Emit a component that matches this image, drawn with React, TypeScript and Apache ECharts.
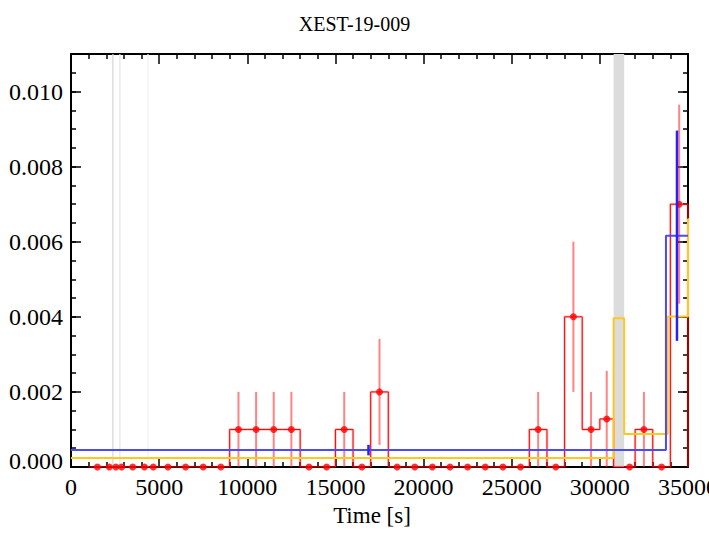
import React, { useEffect, useRef } from "react";
import * as echarts from "echarts";

const FONT = "'Liberation Serif', 'Times New Roman', serif";

// Red light curve: fixed bins (start, end), rate and 1-sigma error
const redBinStart = [1000, 2000, 2347, 2744, 3000, 4000, 4335, 5000, 6000, 7000, 8000, 9000, 10000, 11000, 12000, 13000, 14000, 15000, 16000, 17000, 18000, 19000, 20000, 21000, 22000, 23000, 24000, 25000, 26000, 27000, 28000, 29000, 30000, 31380, 32000, 33000, 34000];
const redBinEnd = [2000, 2347, 2744, 3000, 4000, 4335, 5000, 6000, 7000, 8000, 9000, 10000, 11000, 12000, 13000, 14000, 15000, 16000, 17000, 18000, 19000, 20000, 21000, 22000, 23000, 24000, 25000, 26000, 27000, 28000, 29000, 30000, 30780, 32000, 33000, 34000, 35000];
const redValues = [0, 0, 0, 0, 0, 0, 0, 0, 0, 0, 0, 0.001, 0.001, 0.001, 0.001, 0, 0, 0.001, 0, 0.002, 0, 0, 0, 0, 0, 0, 0, 0, 0.001, 0, 0.004, 0.001, 0.00128, 0, 0.001, 0, 0.007];
const redErrors = [0, 0, 0, 0, 0, 0, 0, 0, 0, 0, 0, 0.001, 0.001, 0.001, 0.001, 0, 0, 0.001, 0, 0.00141, 0, 0, 0, 0, 0, 0, 0, 0, 0.001, 0, 0.002, 0.001, 0.00128, 0, 0.001, 0, 0.00265];

// Blue blocks
const blueEdges = [0, 33750, 35000];
const blueValues = [0.00045, 0.00616];
const blueErrors = [0.00014, 0.0028];

// Yellow blocks
const yellowEdges = [0, 30780, 31380, 33850, 35000, 36000];
const yellowValues = [0.00024, 0.00396, 0.00088, 0.00401, 0.0066];

// Gaps in observation
const gapStart = [2340, 2738, 4330, 30780];
const gapEnd = [2355, 2750, 4340, 31380];
const gapColors = ["#d6d6d6", "#e4e4e4", "#f0f0f0", "#dcdcdc"];

const X_MIN = 0, X_MAX = 35000, X_INT = 5000;
const Y_MIN = 0, Y_MAX = 0.011, Y_INT = 0.002, Y_MINOR = 0.0005;

function redStep() {
  const pts: number[][] = [];
  pts.push([redBinStart[0], 0]);
  for (let i = 0; i < redValues.length; i++) {
    if (i > 0 && redBinStart[i] !== redBinEnd[i - 1]) {
      pts.push([redBinEnd[i - 1], 0]);
      pts.push([redBinStart[i], 0]);
    }
    pts.push([redBinStart[i], redValues[i]]);
    pts.push([redBinEnd[i], redValues[i]]);
  }
  pts.push([redBinEnd[redBinEnd.length - 1], 0]);
  return pts;
}

function blockStep(edges: number[], values: number[]) {
  const pts: number[][] = [];
  for (let i = 0; i < values.length; i++) {
    pts.push([edges[i], values[i]]);
    pts.push([edges[i + 1], values[i]]);
  }
  return pts;
}

export default function App() {
  const ref = useRef<HTMLDivElement>(null);
  useEffect(() => {
    if (!ref.current) return;
    const chart = echarts.init(ref.current, null, { renderer: "svg" });

    const redPts = redValues.map((v, i) => [(redBinStart[i] + redBinEnd[i]) / 2, v]);
    const redErr = redValues
      .map((v, i) => [(redBinStart[i] + redBinEnd[i]) / 2, v - redErrors[i], v + redErrors[i], redErrors[i]])
      .filter((d) => d[3] > 0);
    const blueErr = blueValues.map((v, i) => [(blueEdges[i] + blueEdges[i + 1]) / 2, v - blueErrors[i], v + blueErrors[i]]);
    const gaps = gapStart.map((s, i) => [s, gapEnd[i]]);

    const errRender = (color: string, width: number) => (params: any, api: any) => {
      const p1 = api.coord([api.value(0), api.value(1)]);
      const p2 = api.coord([api.value(0), api.value(2)]);
      return {
        type: "line",
        shape: { x1: p1[0], y1: p1[1], x2: p2[0], y2: p2[1] },
        style: { stroke: color, lineWidth: width },
      };
    };

    const tickStyle = { color: "#000", width: 1.5 };
    const lineStyle = { color: "#000", width: 2 };

    const xBase = {
      type: "value",
      min: X_MIN,
      max: X_MAX,
      interval: X_INT,
      splitLine: { show: false },
      minorSplitLine: { show: false },
      axisLine: { show: true, onZero: false, lineStyle },
      axisTick: { show: true, inside: true, length: 10, lineStyle: tickStyle },
      minorTick: { show: true, splitNumber: 5, length: 5, lineStyle: tickStyle },
    };
    const yMajor = {
      type: "value",
      min: Y_MIN,
      max: Y_MAX,
      interval: Y_INT,
      splitLine: { show: false },
      axisLine: { show: true, onZero: false, lineStyle },
      axisTick: { show: true, inside: true, length: 10, lineStyle: tickStyle },
    };
    const yMinor = {
      type: "value",
      min: Y_MIN,
      max: Y_MAX,
      interval: Y_MINOR,
      splitLine: { show: false },
      axisLine: { show: false, onZero: false },
      axisTick: { show: true, inside: true, length: 5, lineStyle: tickStyle },
      axisLabel: { show: false },
    };

    chart.setOption({
      animation: false,
      backgroundColor: "#fff",
      title: {
        text: "XEST-19-009",
        left: "center",
        top: 9,
        textStyle: { fontFamily: FONT, fontSize: 20, fontWeight: "normal", color: "#000" },
      },
      grid: { left: 71, right: 21, top: 54, bottom: 83, containLabel: false, outerBoundsMode: "none" },
      xAxis: [
        {
          ...xBase,
          position: "bottom",
          axisLabel: {
            color: "#000",
            fontSize: 24,
            fontFamily: FONT,
            margin: 8,
            formatter: (v: number) => String(Math.round(v)),
          },
          name: "Time [s]",
          nameLocation: "middle",
          nameGap: 37,
          nameTextStyle: { color: "#000", fontSize: 23, fontFamily: FONT, padding: [0, 15, 0, 0] },
        },
        { ...xBase, position: "top", axisLabel: { show: false } },
      ],
      yAxis: [
        {
          ...yMajor,
          position: "left",
          axisLabel: {
            color: "#000",
            fontSize: 24,
            fontFamily: FONT,
            margin: 8,
            formatter: (v: number) => (v > 0.0105 ? "" : v === 0 ? "{z|0.000}" : v.toFixed(3)),
            rich: { z: { fontSize: 24, fontFamily: FONT, color: "#000", padding: [0, 0, 12, 0] } },
          },
        },
        { ...yMajor, position: "right", axisLabel: { show: false } },
        { ...yMinor, position: "left" },
        { ...yMinor, position: "right" },
      ],
      series: [
        {
          type: "custom",
          name: "gaps",
          xAxisIndex: 0,
          yAxisIndex: 0,
          z: 1,
          silent: true,
          data: gaps,
          encode: { x: [0, 1] },
          renderItem: (params: any, api: any) => {
            const a = api.coord([api.value(0), Y_MAX]);
            const b = api.coord([api.value(1), Y_MIN]);
            const w = Math.max(b[0] - a[0], 1.2);
            return {
              type: "rect",
              shape: { x: a[0], y: a[1], width: w, height: b[1] - a[1] },
              style: { fill: gapColors[params.dataIndex] },
            };
          },
        },
        {
          type: "line",
          name: "red-halo",
          data: redStep(),
          showSymbol: false,
          symbol: "none",
          z: 2,
          lineStyle: { color: "rgba(255,0,0,0.25)", width: 2.5 },
        },
        {
          type: "line",
          name: "red",
          data: redStep(),
          showSymbol: false,
          symbol: "none",
          z: 2,
          lineStyle: { color: "#ff0000", width: 1 },
        },
        {
          type: "custom",
          name: "red-err",
          z: 3,
          data: redErr,
          encode: { x: 0, y: [1, 2] },
          renderItem: errRender("rgba(255,30,30,0.55)", 2),
        },
        {
          type: "scatter",
          name: "red-pts",
          z: 4,
          clip: false,
          data: redPts,
          symbol: "circle",
          symbolSize: 7,
          itemStyle: { color: "#ff0000" },
        },
        {
          type: "line",
          name: "yellow",
          data: blockStep(yellowEdges, yellowValues),
          showSymbol: false,
          symbol: "none",
          z: 5,
          lineStyle: { color: "#ffc81e", width: 2 },
        },
        {
          type: "line",
          name: "blue",
          data: blockStep(blueEdges, blueValues),
          showSymbol: false,
          symbol: "none",
          z: 6,
          lineStyle: { color: "#4a4aff", width: 2 },
        },
        {
          type: "custom",
          name: "blue-err",
          z: 7,
          data: blueErr,
          encode: { x: 0, y: [1, 2] },
          renderItem: errRender("#2222ff", 2.5),
        },
      ],
    } as any);
    return () => chart.dispose();
  }, []);
  return (
    <div
      ref={ref}
      style={{ position: "fixed", left: 0, top: 0, width: 709, height: 550, background: "#fff" }}
    />
  );
}
